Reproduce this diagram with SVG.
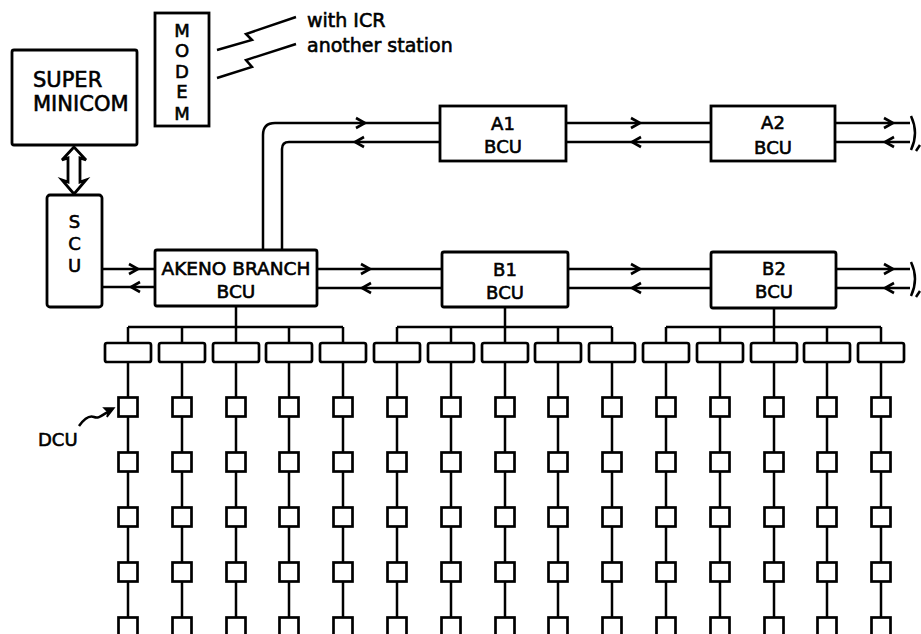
<svg xmlns="http://www.w3.org/2000/svg" xmlns:xlink="http://www.w3.org/1999/xlink" width="921" height="634" viewBox="0 0 921 634">
<style>
.box{fill:#fff;stroke:#000;stroke-width:2.8}
.sm{fill:#fff;stroke:#000;stroke-width:2.7}
.ln{fill:none;stroke:#000;stroke-width:2.5}
.ar{fill:none;stroke:#000;stroke-width:2.6;stroke-linejoin:miter}
.t{font-family:"DejaVu Sans","Liberation Sans",sans-serif;fill:#000;stroke:#000;stroke-width:0.6;text-anchor:middle}
.tl{font-family:"DejaVu Sans","Liberation Sans",sans-serif;fill:#000;stroke:#000;stroke-width:0.6}
</style>
<defs>
<path id="arR" class="ar" d="M-9,-5 L0,0 L-9,5"/>
<path id="arL" class="ar" d="M9,-5 L0,0 L9,5"/>
</defs>
<rect width="921" height="634" fill="#fff"/>
<g id="connectors">
<path class="box" d="M74,147 L62,160 L68,158 L68,182 L62,180 L74,194 L86,180 L80,182 L80,158 L86,160 Z"/>
<path class="ln" d="M217,50 L252,40 L246,34 L296,17"/>
<path class="ln" d="M217,78 L252,67 L246,60 L296,44"/>
<line class="ln" x1="102" y1="269" x2="155" y2="269"/>
<line class="ln" x1="102" y1="287" x2="155" y2="287"/>
<use href="#arR" x="138" y="269"/>
<use href="#arL" x="131" y="287"/>
<path class="ln" d="M263,250 L263,135 Q263,123 275,123 L440,123"/>
<path class="ln" d="M282,250 L282,149 Q282,142 289,142 L440,142"/>
<use href="#arR" x="365" y="123"/>
<use href="#arL" x="355" y="142"/>
<line class="ln" x1="566" y1="123" x2="711" y2="123"/>
<line class="ln" x1="566" y1="142" x2="711" y2="142"/>
<use href="#arR" x="640" y="123"/>
<use href="#arL" x="632" y="142"/>
<line class="ln" x1="835" y1="123" x2="910" y2="123"/>
<line class="ln" x1="835" y1="142" x2="910" y2="142"/>
<use href="#arR" x="893" y="123"/>
<use href="#arL" x="885" y="142"/>
<path class="ln" d="M911,116 Q919,133 911,150"/>
<path class="ln" d="M916,151 L920,145"/>
<line class="ln" x1="317" y1="269" x2="442" y2="269"/>
<line class="ln" x1="317" y1="288" x2="442" y2="288"/>
<use href="#arR" x="370" y="269"/>
<use href="#arL" x="362" y="288"/>
<line class="ln" x1="568" y1="269" x2="711" y2="269"/>
<line class="ln" x1="568" y1="288" x2="711" y2="288"/>
<use href="#arR" x="640" y="269"/>
<use href="#arL" x="632" y="288"/>
<line class="ln" x1="836" y1="269" x2="910" y2="269"/>
<line class="ln" x1="836" y1="288" x2="910" y2="288"/>
<use href="#arR" x="893" y="269"/>
<use href="#arL" x="885" y="288"/>
<path class="ln" d="M911,262 Q919,279 911,296"/>
<path class="ln" d="M916,297 L920,291"/>
<path class="ln" d="M236,306 V327 M128,327 H343 M128,327 V343 M182,327 V343 M236,327 V343 M289,327 V343 M343,327 V343"/>
<path class="ln" d="M505,307 V327 M397,327 H612 M397,327 V343 M451,327 V343 M505,327 V343 M558,327 V343 M612,327 V343"/>
<path class="ln" d="M774,308 V327 M666,327 H881 M666,327 V343 M720,327 V343 M774,327 V343 M827,327 V343 M881,327 V343"/>
<path class="ln" d="M128,362 V634 M182,362 V634 M236,362 V634 M289,362 V634 M343,362 V634 M397,362 V634 M451,362 V634 M505,362 V634 M558,362 V634 M612,362 V634 M666,362 V634 M720,362 V634 M774,362 V634 M827,362 V634 M881,362 V634"/>
<path class="ln" d="M79,426 C84,419 89,415 94,417 C99,419 102,415 111,410"/>
<path d="M114,408 L104,408 L108,412 L107,417 Z" fill="#000" stroke="#000" stroke-width="1.5"/>
</g>
<g id="super-minicom">
<rect class="box" x="12" y="50" width="125" height="95" rx="2"/>
<text class="tl" x="33" y="87" font-size="21">SUPER</text>
<text class="tl" x="33" y="111" font-size="21">MINICOM</text>
</g>
<g id="modem">
<rect class="box" x="155" y="13" width="54" height="113"/>
<text class="t" x="182" y="37" font-size="18">M</text>
<text class="t" x="182" y="57" font-size="18">O</text>
<text class="t" x="182" y="78" font-size="18">D</text>
<text class="t" x="182" y="98" font-size="18">E</text>
<text class="t" x="182" y="120" font-size="18">M</text>
</g>
<g id="radio-labels">
<text class="tl" x="307" y="27" font-size="19">with ICR</text>
<text class="tl" x="307" y="52" font-size="19">another station</text>
</g>
<g id="scu">
<rect class="box" x="47" y="195" width="55" height="112" rx="3"/>
<text class="t" x="74.5" y="228" font-size="18">S</text>
<text class="t" x="74.5" y="250" font-size="18">C</text>
<text class="t" x="74.5" y="272" font-size="18">U</text>
</g>
<g id="akeno-bcu">
<rect class="box" x="155" y="250" width="162" height="56" rx="2"/>
<text class="t" x="236" y="275" font-size="18.5">AKENO BRANCH</text>
<text class="t" x="236" y="298" font-size="18.5">BCU</text>
</g>
<g id="a1-bcu">
<rect class="box" x="440" y="106" width="126" height="55"/>
<text class="t" x="503" y="130" font-size="18">A1</text>
<text class="t" x="503" y="153" font-size="18">BCU</text>
</g>
<g id="a2-bcu">
<rect class="box" x="711" y="106" width="124" height="55"/>
<text class="t" x="773" y="129" font-size="18">A2</text>
<text class="t" x="773" y="154" font-size="18">BCU</text>
</g>
<g id="b1-bcu">
<rect class="box" x="442" y="252" width="126" height="55" rx="2"/>
<text class="t" x="505" y="276" font-size="18">B1</text>
<text class="t" x="505" y="299" font-size="18">BCU</text>
</g>
<g id="b2-bcu">
<rect class="box" x="711" y="252" width="125" height="56" rx="2"/>
<text class="t" x="774" y="275" font-size="18">B2</text>
<text class="t" x="774" y="298" font-size="18">BCU</text>
</g>
<g id="dcu-label"><text class="tl" x="38" y="446" font-size="18">DCU</text></g>
<g id="branch-units">
<g id="bu-0"><rect class="sm" x="105" y="343" width="46" height="19" rx="2"/></g>
<g id="bu-1"><rect class="sm" x="159" y="343" width="46" height="19" rx="2"/></g>
<g id="bu-2"><rect class="sm" x="213" y="343" width="46" height="19" rx="2"/></g>
<g id="bu-3"><rect class="sm" x="266" y="343" width="46" height="19" rx="2"/></g>
<g id="bu-4"><rect class="sm" x="320" y="343" width="46" height="19" rx="2"/></g>
<g id="bu-5"><rect class="sm" x="374" y="343" width="46" height="19" rx="2"/></g>
<g id="bu-6"><rect class="sm" x="428" y="343" width="46" height="19" rx="2"/></g>
<g id="bu-7"><rect class="sm" x="482" y="343" width="46" height="19" rx="2"/></g>
<g id="bu-8"><rect class="sm" x="535" y="343" width="46" height="19" rx="2"/></g>
<g id="bu-9"><rect class="sm" x="589" y="343" width="46" height="19" rx="2"/></g>
<g id="bu-10"><rect class="sm" x="643" y="343" width="46" height="19" rx="2"/></g>
<g id="bu-11"><rect class="sm" x="697" y="343" width="46" height="19" rx="2"/></g>
<g id="bu-12"><rect class="sm" x="751" y="343" width="46" height="19" rx="2"/></g>
<g id="bu-13"><rect class="sm" x="804" y="343" width="46" height="19" rx="2"/></g>
<g id="bu-14"><rect class="sm" x="858" y="343" width="46" height="19" rx="2"/></g>
</g>
<g id="dcus">
<g id="dcu-0-0"><rect class="sm" x="118.5" y="397.5" width="19" height="19"/></g>
<g id="dcu-0-1"><rect class="sm" x="118.5" y="452.5" width="19" height="19"/></g>
<g id="dcu-0-2"><rect class="sm" x="118.5" y="507.5" width="19" height="19"/></g>
<g id="dcu-0-3"><rect class="sm" x="118.5" y="562.5" width="19" height="19"/></g>
<g id="dcu-0-4"><rect class="sm" x="118.5" y="617.5" width="19" height="19"/></g>
<g id="dcu-1-0"><rect class="sm" x="172.5" y="397.5" width="19" height="19"/></g>
<g id="dcu-1-1"><rect class="sm" x="172.5" y="452.5" width="19" height="19"/></g>
<g id="dcu-1-2"><rect class="sm" x="172.5" y="507.5" width="19" height="19"/></g>
<g id="dcu-1-3"><rect class="sm" x="172.5" y="562.5" width="19" height="19"/></g>
<g id="dcu-1-4"><rect class="sm" x="172.5" y="617.5" width="19" height="19"/></g>
<g id="dcu-2-0"><rect class="sm" x="226.5" y="397.5" width="19" height="19"/></g>
<g id="dcu-2-1"><rect class="sm" x="226.5" y="452.5" width="19" height="19"/></g>
<g id="dcu-2-2"><rect class="sm" x="226.5" y="507.5" width="19" height="19"/></g>
<g id="dcu-2-3"><rect class="sm" x="226.5" y="562.5" width="19" height="19"/></g>
<g id="dcu-2-4"><rect class="sm" x="226.5" y="617.5" width="19" height="19"/></g>
<g id="dcu-3-0"><rect class="sm" x="279.5" y="397.5" width="19" height="19"/></g>
<g id="dcu-3-1"><rect class="sm" x="279.5" y="452.5" width="19" height="19"/></g>
<g id="dcu-3-2"><rect class="sm" x="279.5" y="507.5" width="19" height="19"/></g>
<g id="dcu-3-3"><rect class="sm" x="279.5" y="562.5" width="19" height="19"/></g>
<g id="dcu-3-4"><rect class="sm" x="279.5" y="617.5" width="19" height="19"/></g>
<g id="dcu-4-0"><rect class="sm" x="333.5" y="397.5" width="19" height="19"/></g>
<g id="dcu-4-1"><rect class="sm" x="333.5" y="452.5" width="19" height="19"/></g>
<g id="dcu-4-2"><rect class="sm" x="333.5" y="507.5" width="19" height="19"/></g>
<g id="dcu-4-3"><rect class="sm" x="333.5" y="562.5" width="19" height="19"/></g>
<g id="dcu-4-4"><rect class="sm" x="333.5" y="617.5" width="19" height="19"/></g>
<g id="dcu-5-0"><rect class="sm" x="387.5" y="397.5" width="19" height="19"/></g>
<g id="dcu-5-1"><rect class="sm" x="387.5" y="452.5" width="19" height="19"/></g>
<g id="dcu-5-2"><rect class="sm" x="387.5" y="507.5" width="19" height="19"/></g>
<g id="dcu-5-3"><rect class="sm" x="387.5" y="562.5" width="19" height="19"/></g>
<g id="dcu-5-4"><rect class="sm" x="387.5" y="617.5" width="19" height="19"/></g>
<g id="dcu-6-0"><rect class="sm" x="441.5" y="397.5" width="19" height="19"/></g>
<g id="dcu-6-1"><rect class="sm" x="441.5" y="452.5" width="19" height="19"/></g>
<g id="dcu-6-2"><rect class="sm" x="441.5" y="507.5" width="19" height="19"/></g>
<g id="dcu-6-3"><rect class="sm" x="441.5" y="562.5" width="19" height="19"/></g>
<g id="dcu-6-4"><rect class="sm" x="441.5" y="617.5" width="19" height="19"/></g>
<g id="dcu-7-0"><rect class="sm" x="495.5" y="397.5" width="19" height="19"/></g>
<g id="dcu-7-1"><rect class="sm" x="495.5" y="452.5" width="19" height="19"/></g>
<g id="dcu-7-2"><rect class="sm" x="495.5" y="507.5" width="19" height="19"/></g>
<g id="dcu-7-3"><rect class="sm" x="495.5" y="562.5" width="19" height="19"/></g>
<g id="dcu-7-4"><rect class="sm" x="495.5" y="617.5" width="19" height="19"/></g>
<g id="dcu-8-0"><rect class="sm" x="548.5" y="397.5" width="19" height="19"/></g>
<g id="dcu-8-1"><rect class="sm" x="548.5" y="452.5" width="19" height="19"/></g>
<g id="dcu-8-2"><rect class="sm" x="548.5" y="507.5" width="19" height="19"/></g>
<g id="dcu-8-3"><rect class="sm" x="548.5" y="562.5" width="19" height="19"/></g>
<g id="dcu-8-4"><rect class="sm" x="548.5" y="617.5" width="19" height="19"/></g>
<g id="dcu-9-0"><rect class="sm" x="602.5" y="397.5" width="19" height="19"/></g>
<g id="dcu-9-1"><rect class="sm" x="602.5" y="452.5" width="19" height="19"/></g>
<g id="dcu-9-2"><rect class="sm" x="602.5" y="507.5" width="19" height="19"/></g>
<g id="dcu-9-3"><rect class="sm" x="602.5" y="562.5" width="19" height="19"/></g>
<g id="dcu-9-4"><rect class="sm" x="602.5" y="617.5" width="19" height="19"/></g>
<g id="dcu-10-0"><rect class="sm" x="656.5" y="397.5" width="19" height="19"/></g>
<g id="dcu-10-1"><rect class="sm" x="656.5" y="452.5" width="19" height="19"/></g>
<g id="dcu-10-2"><rect class="sm" x="656.5" y="507.5" width="19" height="19"/></g>
<g id="dcu-10-3"><rect class="sm" x="656.5" y="562.5" width="19" height="19"/></g>
<g id="dcu-10-4"><rect class="sm" x="656.5" y="617.5" width="19" height="19"/></g>
<g id="dcu-11-0"><rect class="sm" x="710.5" y="397.5" width="19" height="19"/></g>
<g id="dcu-11-1"><rect class="sm" x="710.5" y="452.5" width="19" height="19"/></g>
<g id="dcu-11-2"><rect class="sm" x="710.5" y="507.5" width="19" height="19"/></g>
<g id="dcu-11-3"><rect class="sm" x="710.5" y="562.5" width="19" height="19"/></g>
<g id="dcu-11-4"><rect class="sm" x="710.5" y="617.5" width="19" height="19"/></g>
<g id="dcu-12-0"><rect class="sm" x="764.5" y="397.5" width="19" height="19"/></g>
<g id="dcu-12-1"><rect class="sm" x="764.5" y="452.5" width="19" height="19"/></g>
<g id="dcu-12-2"><rect class="sm" x="764.5" y="507.5" width="19" height="19"/></g>
<g id="dcu-12-3"><rect class="sm" x="764.5" y="562.5" width="19" height="19"/></g>
<g id="dcu-12-4"><rect class="sm" x="764.5" y="617.5" width="19" height="19"/></g>
<g id="dcu-13-0"><rect class="sm" x="817.5" y="397.5" width="19" height="19"/></g>
<g id="dcu-13-1"><rect class="sm" x="817.5" y="452.5" width="19" height="19"/></g>
<g id="dcu-13-2"><rect class="sm" x="817.5" y="507.5" width="19" height="19"/></g>
<g id="dcu-13-3"><rect class="sm" x="817.5" y="562.5" width="19" height="19"/></g>
<g id="dcu-13-4"><rect class="sm" x="817.5" y="617.5" width="19" height="19"/></g>
<g id="dcu-14-0"><rect class="sm" x="871.5" y="397.5" width="19" height="19"/></g>
<g id="dcu-14-1"><rect class="sm" x="871.5" y="452.5" width="19" height="19"/></g>
<g id="dcu-14-2"><rect class="sm" x="871.5" y="507.5" width="19" height="19"/></g>
<g id="dcu-14-3"><rect class="sm" x="871.5" y="562.5" width="19" height="19"/></g>
<g id="dcu-14-4"><rect class="sm" x="871.5" y="617.5" width="19" height="19"/></g>
</g>
</svg>
